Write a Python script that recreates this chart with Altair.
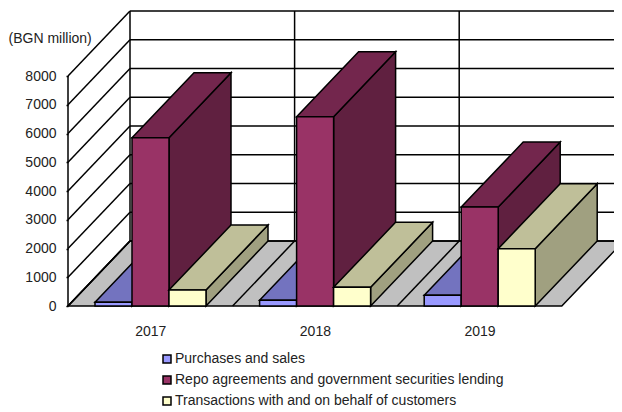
import altair as alt
import pandas as pd

years = ["2017", "2018", "2019"]
series = ["Purchases and sales",
          "Repo agreements and government securities lending",
          "Transactions with and on behalf of customers"]
purchases = [130, 200, 372]
repo = [5854, 6585, 3440]
transactions = [556, 650, 1993]
values = [purchases, repo, transactions]
y_ticks = [0, 1000, 2000, 3000, 4000, 5000, 6000, 7000, 8000]

front = ["#9999FF", "#993366", "#FFFFCC"]
top = ["#7373BF", "#73264D", "#BFBF99"]
side = ["#6060A0", "#602040", "#A0A080"]
FLOOR = "#C0C0C0"
FONT = "Liberation Sans"
FS = 14
INK = "#222222"

# 3-D projection expressed in data units
CELL = 164.6
DX = 62 / CELL     # depth shift in category units
DY = 65 / 0.02875  # depth shift in BGN million
GAP = 27 / CELL
BW = 37 / CELL
PW = 546
PH = 297

XS = alt.Scale(domain=[0, PW / CELL], range=[0, PW], nice=False, zero=False)
YS = alt.Scale(domain=[0, PH / 0.02875], range=[PH, 0], nice=False, zero=False)

label_expr = "datum.value < 1 ? '%s' : datum.value < 2 ? '%s' : '%s'" % tuple(years)

x_axis = alt.Axis(values=[0.5, 1.5, 2.5], labelExpr=label_expr, domain=False, ticks=False,
                  grid=False, labelFont=FONT, labelFontSize=FS, labelColor=INK,
                  labelPadding=18, labelAngle=0, title=None)
y_axis = alt.Axis(values=y_ticks, domain=False, grid=False, tickSize=2, tickWidth=1.5,
                  tickColor="black", labelFont=FONT, labelFontSize=FS, labelColor=INK,
                  labelPadding=10, format="d", title="(BGN million)", titleAngle=0,
                  titleFont=FONT, titleFontSize=FS, titleFontWeight="normal", titleColor=INK,
                  titleX=-60, titleY=29, titleAlign="left", titleBaseline="middle")


def xe(f="x"):
    return alt.X(f, type="quantitative", scale=XS, axis=x_axis)


def ye(f="y"):
    return alt.Y(f, type="quantitative", scale=YS, axis=y_axis)


floor_df = pd.DataFrame({"y": [0, DY], "x": [0, DX], "x2": [3, 3 + DX]})
floor = alt.Chart(floor_df).mark_area(orient="horizontal", fill=FLOOR, stroke="black",
                                      strokeWidth=1.5).encode(y=ye(), x=xe(), x2="x2")

rows = []
for t in y_ticks:
    rows.append(dict(x=0, y=t, x2=DX, y2=t + DY))            # left wall diagonals
    rows.append(dict(x=DX, y=t + DY, x2=3 + DX, y2=t + DY))  # back wall horizontals
rows.append(dict(x=0, y=0, x2=0, y2=8000))                   # front left edge
for c in range(4):
    rows.append(dict(x=c + DX, y=DY, x2=c + DX, y2=8000 + DY))  # back wall verticals
    if c < 3:
        rows.append(dict(x=c, y=0, x2=c + DX, y2=DY))           # floor diagonals
grid = alt.Chart(pd.DataFrame(rows)).mark_rule(color="black", strokeWidth=1.5).encode(
    x=xe(), y=ye(), x2="x2", y2="y2")

legend = alt.Legend(orient="none", legendX=92, legendY=343, title=None, symbolType="square",
                    symbolSize=64, symbolStrokeColor="black", symbolStrokeWidth=1.5,
                    labelFont=FONT, labelFontSize=FS, labelColor=INK, labelLimit=500,
                    labelOffset=1, rowPadding=7)
color = alt.Color("series:N", scale=alt.Scale(domain=series, range=front), legend=legend)

layers = [floor, grid]
for c, year in enumerate(years):
    for s, name in enumerate(series):
        v = values[s][c]
        x0 = c + GAP + s * BW
        x1 = x0 + BW
        sd = pd.DataFrame({"x": [x1, x1 + DX], "y": [0, DY], "y2": [v, v + DY]})
        layers.append(alt.Chart(sd).mark_area(fill=side[s], stroke="black", strokeWidth=1.5).encode(
            x=xe(), y=ye(), y2="y2"))
        td = pd.DataFrame({"y": [v, v + DY], "x": [x0, x0 + DX], "x2": [x1, x1 + DX]})
        layers.append(alt.Chart(td).mark_area(orient="horizontal", fill=top[s], stroke="black",
                                              strokeWidth=1.5).encode(
            y=ye(), x=xe(), x2="x2"))
        fd = pd.DataFrame({"series": [name], "x": [x0], "x2": [x1], "y": [0], "y2": [v]})
        layers.append(alt.Chart(fd).mark_rect(stroke="black", strokeWidth=1.5).encode(
            x=xe(), x2="x2", y=ye(), y2="y2", color=color))

chart = alt.layer(*layers).properties(
    width=PW, height=PH,
    padding={"left": 60, "top": 1, "right": 0, "bottom": 106},
    autosize=alt.AutoSizeParams(type="none"),
    background="white",
).configure_view(stroke=None)

chart.save("out.html", embed_options={"renderer": "svg", "actions": False})
